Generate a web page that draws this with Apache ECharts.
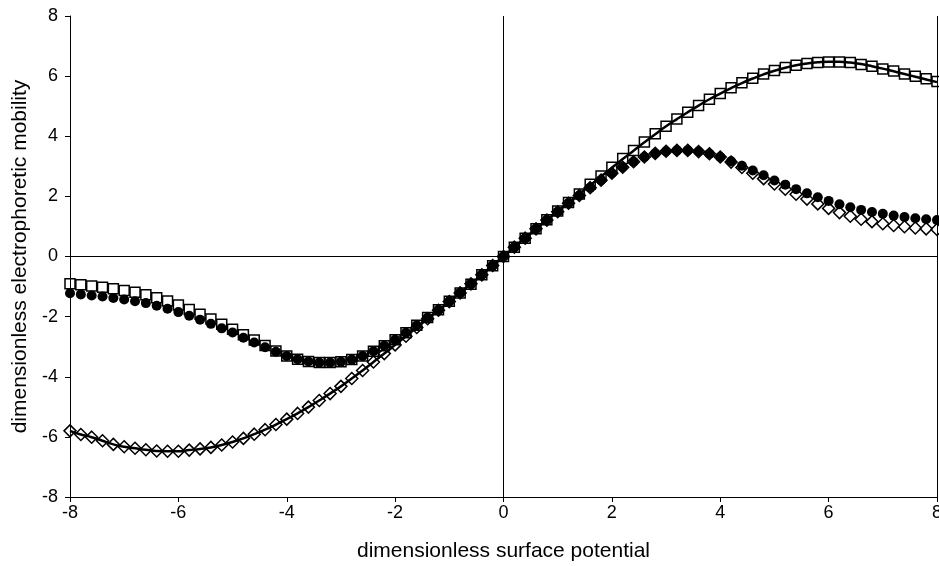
<!DOCTYPE html>
<html>
<head>
<meta charset="utf-8">
<script src="https://cdn.jsdelivr.net/npm/echarts@6/dist/echarts.min.js"></script>
<style>
  html, body { margin: 0; padding: 0; background: #fff; }
  #container { width: 939px; height: 566px; }
</style>
</head>
<body>
<div id="container"></div>
<script>
// surface potential (x), step 0.2
var potential = [-8,-7.8,-7.6,-7.4,-7.2,-7,-6.8,-6.6,-6.4,-6.2,-6,-5.8,-5.6,-5.4,-5.2,-5,-4.8,-4.6,-4.4,-4.2,
  -4,-3.8,-3.6,-3.4,-3.2,-3,-2.8,-2.6,-2.4,-2.2,-2,-1.8,-1.6,-1.4,-1.2,-1,-0.8,-0.6,-0.4,-0.2,
  0,0.2,0.4,0.6,0.8,1,1.2,1.4,1.6,1.8,2,2.2,2.4,2.6,2.8,3,3.2,3.4,3.6,3.8,
  4,4.2,4.4,4.6,4.8,5,5.2,5.4,5.6,5.8,6,6.2,6.4,6.6,6.8,7,7.2,7.4,7.6,7.8,8];

// solid curve
var curveLine = [-5.80,-5.92,-6.01,-6.13,-6.25,-6.33,-6.38,-6.43,-6.47,-6.48,-6.48,-6.44,-6.40,-6.35,-6.27,-6.17,-6.05,-5.91,-5.76,-5.59,
  -5.41,-5.22,-5.01,-4.79,-4.56,-4.32,-4.06,-3.79,-3.51,-3.23,-2.94,-2.65,-2.36,-2.07,-1.79,-1.50,-1.21,-0.91,-0.61,-0.30,
  0,0.31,0.61,0.92,1.22,1.51,1.80,2.08,2.37,2.66,2.95,3.24,3.52,3.80,4.07,4.33,4.57,4.80,5.02,5.23,
  5.42,5.60,5.77,5.92,6.06,6.18,6.28,6.36,6.42,6.46,6.48,6.48,6.45,6.40,6.33,6.25,6.16,6.07,5.98,5.89,5.80];

// open squares
var openSquares = [-0.91,-0.94,-0.98,-1.02,-1.07,-1.13,-1.19,-1.27,-1.37,-1.48,-1.61,-1.76,-1.92,-2.08,-2.25,-2.42,-2.60,-2.78,-2.96,-3.14,
  -3.31,-3.42,-3.49,-3.53,-3.53,-3.50,-3.43,-3.31,-3.15,-2.97,-2.77,-2.54,-2.29,-2.03,-1.77,-1.49,-1.21,-0.92,-0.61,-0.31,
  0,0.31,0.61,0.92,1.22,1.51,1.80,2.08,2.40,2.68,2.97,3.26,3.53,3.81,4.08,4.33,4.57,4.80,5.02,5.23,
  5.42,5.61,5.78,5.93,6.07,6.19,6.29,6.36,6.42,6.45,6.47,6.47,6.45,6.39,6.33,6.24,6.17,6.07,6.00,5.91,5.82];

// open diamonds
var openDiamonds = [-5.80,-5.92,-6.01,-6.13,-6.25,-6.33,-6.38,-6.43,-6.47,-6.48,-6.48,-6.44,-6.40,-6.35,-6.27,-6.17,-6.05,-5.91,-5.76,-5.59,
  -5.41,-5.22,-5.01,-4.79,-4.56,-4.32,-4.06,-3.79,-3.51,-3.23,-2.94,-2.65,-2.36,-2.07,-1.79,-1.50,-1.21,-0.91,-0.61,-0.30,
  0,0.31,0.61,0.92,1.21,1.49,1.77,2.03,2.29,2.54,2.77,2.97,3.15,3.31,3.43,3.50,3.53,3.53,3.49,3.42,
  3.31,3.14,2.96,2.77,2.59,2.41,2.24,2.07,1.91,1.75,1.60,1.46,1.34,1.24,1.16,1.09,1.03,0.99,0.95,0.92,0.90];

// filled circles
var filledCircles = [-1.22,-1.26,-1.30,-1.33,-1.38,-1.43,-1.49,-1.55,-1.64,-1.74,-1.85,-1.97,-2.10,-2.24,-2.39,-2.53,-2.70,-2.86,-3.02,-3.17,
  -3.31,-3.42,-3.49,-3.53,-3.53,-3.50,-3.43,-3.31,-3.15,-2.97,-2.77,-2.54,-2.29,-2.03,-1.77,-1.49,-1.21,-0.92,-0.61,-0.31,
  0,0.31,0.61,0.92,1.21,1.49,1.77,2.03,2.29,2.54,2.77,2.97,3.15,3.31,3.43,3.50,3.53,3.53,3.49,3.42,
  3.31,3.17,3.02,2.86,2.70,2.53,2.39,2.24,2.10,1.97,1.85,1.74,1.64,1.55,1.48,1.42,1.36,1.31,1.27,1.24,1.21];

function pairs(ys) {
  return potential.map(function (x, i) { return [x, ys[i]]; });
}

var dom = document.getElementById('container');
var myChart = echarts.init(dom, null, { renderer: 'canvas' });
var font = 'Liberation Sans, Arial, sans-serif';

var option = {
  animation: false,
  backgroundColor: '#fff',
  grid: { left: 70, right: 2, top: 16, bottom: 69, containLabel: false, outerBoundsMode: 'none' },
  xAxis: {
    type: 'value', min: -8, max: 8, interval: 2,
    name: 'dimensionless surface potential',
    nameLocation: 'middle', nameGap: 44,
    nameTextStyle: { color: '#000', fontSize: 21, fontFamily: font },
    axisLine: { onZero: false, lineStyle: { color: '#000', width: 1 } },
    axisTick: { show: true, length: 5, lineStyle: { color: '#000' } },
    axisLabel: { color: '#000', fontSize: 18, fontFamily: font, margin: 7 },
    splitLine: { show: false }
  },
  yAxis: {
    type: 'value', min: -8, max: 8, interval: 2,
    name: 'dimensionless electrophoretic mobility',
    nameLocation: 'middle', nameGap: 39,
    nameTextStyle: { color: '#000', fontSize: 21, fontFamily: font },
    axisLine: { show: true, onZero: false, lineStyle: { color: '#000', width: 1 } },
    axisTick: { show: true, length: 5, lineStyle: { color: '#000' } },
    axisLabel: { color: '#000', fontSize: 18, fontFamily: font, margin: 12 },
    splitLine: { show: false }
  },
  series: [
    {
      type: 'line',
      data: pairs(curveLine),
      smooth: true,
      showSymbol: false,
      lineStyle: { color: '#000', width: 2.5 },
      markLine: {
        silent: true,
        symbol: 'none',
        label: { show: false },
        lineStyle: { color: '#000', width: 1, type: 'solid' },
        data: [{ xAxis: 0 }, { yAxis: 0 }, { xAxis: 8 }]
      }
    },
    {
      type: 'scatter',
      data: pairs(openSquares),
      symbol: 'rect',
      symbolSize: 10,
      itemStyle: { color: 'rgba(0,0,0,0)', borderColor: '#000', borderWidth: 1.5, opacity: 1 }
    },
    {
      type: 'scatter',
      data: pairs(openDiamonds),
      symbol: 'diamond',
      symbolSize: 12,
      itemStyle: { color: 'rgba(0,0,0,0)', borderColor: '#000', borderWidth: 1.5, opacity: 1 }
    },
    {
      type: 'scatter',
      data: pairs(filledCircles),
      symbol: 'circle',
      symbolSize: 10,
      itemStyle: { color: '#000', opacity: 1 }
    }
  ]
};
myChart.setOption(option);
window.addEventListener('resize', function () {
  myChart.resize();
});
</script>
</body>
</html>
